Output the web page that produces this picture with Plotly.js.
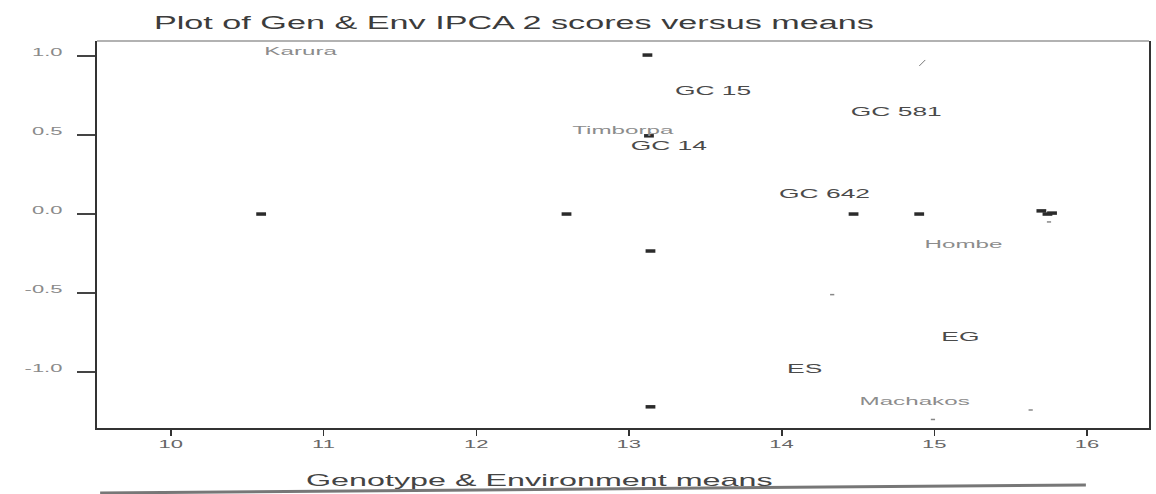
<!DOCTYPE html>
<html>
<head>
<meta charset="utf-8">
<script src="https://cdn.plot.ly/plotly-3.0.1.min.js"></script>
<style>
  html, body { margin: 0; padding: 0; background: #fff; }
  #plot { width: 1156px; height: 494px; }
  .gtitle, .annotation-text { scale: 1.9 1; transform-box: fill-box; transform-origin: center; }
  .textpoint text { scale: 2.2 1; transform-box: fill-box; transform-origin: center; }
</style>
</head>
<body>
<div id="plot"></div>
<script>
// ---- data ----
const genLabels = ["GC 15", "GC 581", "GC 14", "GC 642", "EG", "ES"];
const genLabelX = [13.55, 14.75, 13.26, 14.28, 15.17, 14.15];
const genLabelY = [0.774, 0.64, 0.426, 0.12, -0.785, -0.99];

const envLabels = ["Karura", "Timborpa", "Hombe", "Machakos"];
const envLabelX = [10.85, 12.96, 15.19, 14.87];
const envLabelY = [1.025, 0.527, -0.20, -1.188];

const pointX = [10.59, 12.59, 13.12, 13.13, 13.14, 13.14, 14.47, 14.90, 15.70, 15.74, 15.77];
const pointY = [0.0, 0.0, 1.006, 0.495, -0.234, -1.22, 0.0, 0.0, 0.02, 0.0, 0.006];

const speckX = [14.33, 14.99, 15.63, 15.75];
const speckY = [-0.51, -1.30, -1.24, -0.05];
const slashX = [14.92];
const slashY = [0.956];

const xTicks = [10, 11, 12, 13, 14, 15, 16];
const xTickLabels = ["10", "11", "12", "13", "14", "15", "16"];
const yTicks = [-1.0, -0.5, 0.0, 0.5, 1.0];
const yTickLabels = ["-1.0", "-0.5", "0.0", "0.5", "1.0"];

const titleText = "Plot of Gen & Env IPCA 2 scores versus means";
const lowerTitleText = "Genotype & Environment means";

// ---- traces ----
const traces = [
  {
    x: pointX, y: pointY, type: "scatter", mode: "markers",
    marker: { symbol: "line-ew", size: 7, color: "#2b2b2b", line: { color: "#2b2b2b", width: 3.5 } },
    hoverinfo: "skip", showlegend: false
  },
  {
    x: speckX, y: speckY, type: "scatter", mode: "markers",
    marker: { symbol: "line-ew", size: 3, color: "#888", line: { color: "#888", width: 1.5 } },
    hoverinfo: "skip", showlegend: false
  },
  {
    x: slashX, y: slashY, type: "scatter", mode: "markers",
    marker: { symbol: "line-ne", size: 6, color: "#777", line: { color: "#777", width: 1 } },
    hoverinfo: "skip", showlegend: false
  },
  {
    x: envLabelX, y: envLabelY, text: envLabels, type: "scatter", mode: "text",
    textposition: "middle center",
    textfont: { family: "Liberation Sans, Arial, sans-serif", size: 11, color: "#8c8c8c" },
    hoverinfo: "skip", showlegend: false
  },
  {
    x: genLabelX, y: genLabelY, text: genLabels, type: "scatter", mode: "text",
    textposition: "middle center",
    textfont: { family: "Liberation Sans, Arial, sans-serif", size: 12, color: "#4a4a4a" },
    hoverinfo: "skip", showlegend: false
  }
];

const layout = {
  width: 1156, height: 494,
  margin: { l: 97, r: 7, t: 41, b: 66, pad: 0 },
  paper_bgcolor: "#ffffff", plot_bgcolor: "#ffffff",
  font: { family: "Liberation Sans, Arial, sans-serif", color: "#444" },
  title: {
    text: titleText, xref: "container", yref: "container",
    x: 0.4446, xanchor: "center", y: 0.955, yanchor: "middle",
    font: { size: 18, color: "#3c3c3c" }
  },
  xaxis: {
    range: [9.515, 16.405], showgrid: false, zeroline: false,
    showline: true, linecolor: "#333", linewidth: 2, mirror: false,
    tickmode: "array", tickvals: xTicks, ticktext: xTickLabels,
    ticks: "outside", ticklen: 6, tickwidth: 1.5, tickcolor: "#333",
    tickfont: { size: 10, color: "#666" }
  },
  yaxis: {
    range: [-1.354, 1.095], showgrid: false, zeroline: false,
    showline: true, linecolor: "#333", linewidth: 2, mirror: true,
    tickmode: "array", tickvals: yTicks, ticktext: yTickLabels,
    ticks: "outside", ticklen: 18, tickwidth: 1.5, tickcolor: "#444",
    tickfont: { size: 10, color: "#8a8a8a" },
    ticklabelstandoff: 12, ticklabelshift: -4
  },
  shapes: [
    { type: "line", xref: "paper", yref: "paper", x0: 0, x1: 1, y0: 1, y1: 1,
      line: { color: "#999", width: 1.5 } },
    { type: "line", xref: "paper", yref: "paper", x0: 0.003, x1: 0.94, y0: -0.168, y1: -0.147,
      line: { color: "#777", width: 3 } }
  ],
  annotations: [
    { text: lowerTitleText, xref: "paper", yref: "paper", x: 0.421, y: -0.134,
      xanchor: "center", yanchor: "middle", showarrow: false,
      font: { size: 17, color: "#444" } }
  ]
};

// widen the tick labels horizontally, like the stretched scan
function widenTicks() {
  const widen = (sel, sx, anchor) => {
    document.querySelectorAll(sel).forEach(t => {
      const tr = t.getAttribute("transform") || "";
      if (tr.indexOf("scale(") !== -1) return;
      const bb = t.getBBox();
      const cx = anchor === "right" ? bb.x + bb.width : bb.x + bb.width / 2;
      t.setAttribute("transform", tr + " translate(" + cx + ",0) scale(" + sx + ",1) translate(" + (-cx) + ",0)");
    });
  };
  widen(".xtick text", 2.2, "center");
  widen(".ytick text", 2.2, "right");
}

Plotly.newPlot("plot", traces, layout, { displayModeBar: false, staticPlot: true }).then(widenTicks);
</script>
</body>
</html>
